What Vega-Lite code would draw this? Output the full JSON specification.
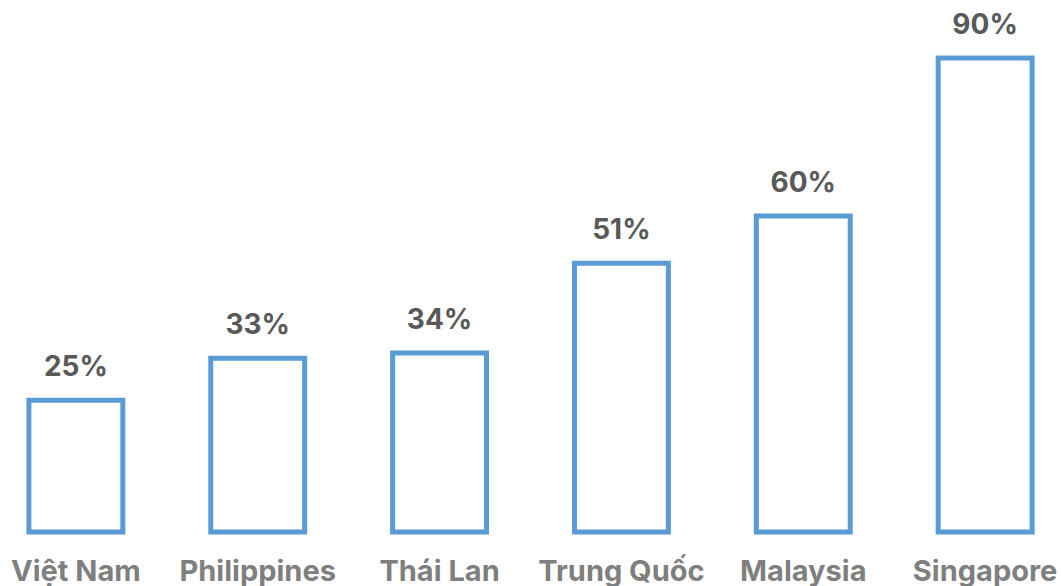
{
  "$schema": "https://vega.github.io/schema/vega-lite/v6.json",
  "width": 1061,
  "height": 532,
  "padding": {"left": 0, "top": 0, "right": 0, "bottom": 54},
  "autosize": {"type": "none"},
  "background": "white",
  "config": {"view": {"stroke": null}},
  "data": {"values": [
    {"country": "Việt Nam", "value": 25, "label": "25%"},
    {"country": "Philippines", "value": 33, "label": "33%"},
    {"country": "Thái Lan", "value": 34, "label": "34%"},
    {"country": "Trung Quốc", "value": 51, "label": "51%"},
    {"country": "Malaysia", "value": 60, "label": "60%"},
    {"country": "Singapore", "value": 90, "label": "90%"}
  ]},
  "encoding": {
    "x": {"field": "country", "type": "nominal", "sort": null,
      "scale": {"paddingInner": 0.4835, "paddingOuter": 0.159},
      "axis": {"title": null, "domain": false, "ticks": false, "labelAngle": 0,
        "labelFont": "Inter", "labelFontSize": 29, "labelFontWeight": "bold", "labelColor": "#7f7f7f",
        "labelBaseline": "alphabetic", "labelPadding": 48, "labelOverlap": false, "labelBound": false}},
    "y": {"field": "value", "type": "quantitative", "scale": {"domain": [0, 101]}, "axis": null}
  },
  "layer": [
    {"mark": {"type": "bar", "fill": "white", "stroke": "#5b9bd5", "strokeWidth": 5}},
    {"mark": {"type": "text", "baseline": "alphabetic", "dy": -24, "font": "Inter", "fontSize": 28, "fontWeight": "bold", "color": "#595959"},
     "encoding": {"text": {"field": "label", "type": "nominal"}}}
  ]
}
